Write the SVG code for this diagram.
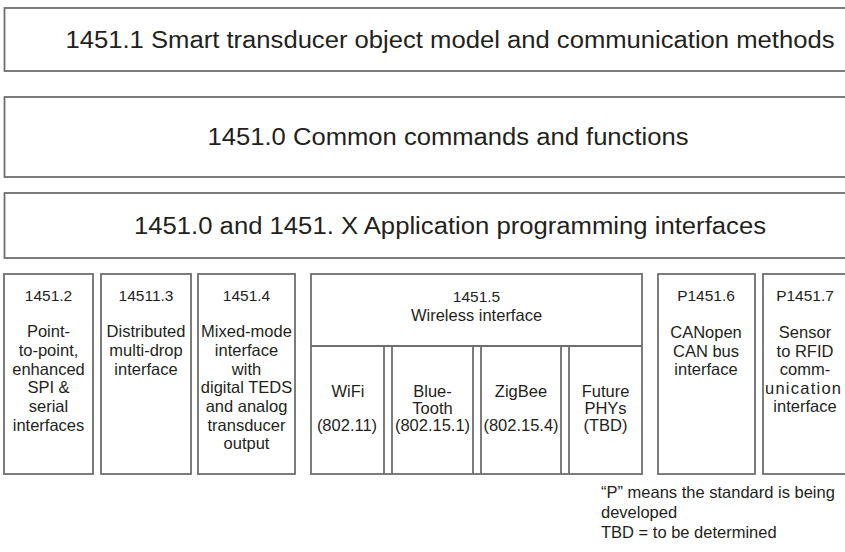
<svg xmlns="http://www.w3.org/2000/svg" width="845" height="552" viewBox="0 0 845 552">
  <style>
    .box { fill: #ffffff; stroke: #6e6e6e; stroke-width: 1.8; }
    .div { fill: none; stroke: #6e6e6e; stroke-width: 1.8; }
    text { font-family: "Liberation Sans", Arial, sans-serif; fill: #231f20; text-anchor: middle; }
    .title { font-size: 23px; }
    .hd { font-size: 15.5px; }
    .bd { font-size: 16.5px; }
    .note { font-size: 16.5px; text-anchor: start; }
  </style>
  <rect width="845" height="552" fill="#ffffff"/>

  <!-- stacked layers -->
  <g id="layer-1451-1">
    <rect class="box" x="4.5" y="8" width="850" height="63"/>
    <text class="title" x="450" y="48" textLength="769" lengthAdjust="spacingAndGlyphs">1451.1 Smart transducer object model and communication methods</text>
  </g>
  <g id="layer-1451-0">
    <rect class="box" x="4.5" y="97" width="850" height="80"/>
    <text class="title" x="448" y="145" textLength="481" lengthAdjust="spacingAndGlyphs">1451.0 Common commands and functions</text>
  </g>
  <g id="layer-api">
    <rect class="box" x="4.5" y="193" width="850" height="65"/>
    <text class="title" x="450" y="234" textLength="632" lengthAdjust="spacingAndGlyphs">1451.0 and 1451. X Application programming interfaces</text>
  </g>

  <!-- physical interface standards -->
  <g id="std-1451-2">
    <rect class="box" x="4" y="274" width="89" height="200"/>
    <text class="hd" x="48.5" y="301">1451.2</text>
    <text class="bd" x="48.5" y="337">Point-</text>
    <text class="bd" x="48.5" y="356">to-point,</text>
    <text class="bd" x="48.5" y="375">enhanced</text>
    <text class="bd" x="48.5" y="393">SPI &amp;</text>
    <text class="bd" x="48.5" y="412">serial</text>
    <text class="bd" x="48.5" y="431">interfaces</text>
  </g>
  <g id="std-14511-3">
    <rect class="box" x="101" y="274" width="90" height="200"/>
    <text class="hd" x="146" y="301">14511.3</text>
    <text class="bd" x="146" y="337">Distributed</text>
    <text class="bd" x="146" y="356">multi-drop</text>
    <text class="bd" x="146" y="375">interface</text>
  </g>
  <g id="std-1451-4">
    <rect class="box" x="198" y="274" width="97" height="200"/>
    <text class="hd" x="246.5" y="301">1451.4</text>
    <text class="bd" x="246.5" y="337">Mixed-mode</text>
    <text class="bd" x="246.5" y="356">interface</text>
    <text class="bd" x="246.5" y="375">with</text>
    <text class="bd" x="246.5" y="393">digital TEDS</text>
    <text class="bd" x="246.5" y="412">and analog</text>
    <text class="bd" x="246.5" y="431">transducer</text>
    <text class="bd" x="246.5" y="449">output</text>
  </g>
  <g id="std-1451-5">
    <rect class="box" x="311" y="274" width="331" height="200"/>
    <path class="div" d="M311 346H642 M384 346V474 M392 346V474 M473 346V474 M481 346V474 M561 346V474 M569 346V474"/>
    <text class="hd" x="476.5" y="302">1451.5</text>
    <text class="bd" x="476.5" y="321">Wireless interface</text>
  </g>
  <g id="phy-wifi">
    <text class="bd" x="348" y="397">WiFi</text>
    <text class="bd" x="347" y="431">(802.11)</text>
  </g>
  <g id="phy-bluetooth">
    <text class="bd" x="432.5" y="397">Blue-</text>
    <text class="bd" x="432.5" y="414">Tooth</text>
    <text class="bd" x="432.5" y="431">(802.15.1)</text>
  </g>
  <g id="phy-zigbee">
    <text class="bd" x="521" y="397">ZigBee</text>
    <text class="bd" x="521" y="431">(802.15.4)</text>
  </g>
  <g id="phy-future">
    <text class="bd" x="605.5" y="397">Future</text>
    <text class="bd" x="605.5" y="414">PHYs</text>
    <text class="bd" x="605.5" y="431">(TBD)</text>
  </g>
  <g id="std-p1451-6">
    <rect class="box" x="658" y="274" width="97" height="200"/>
    <text class="hd" x="706" y="301">P1451.6</text>
    <text class="bd" x="706" y="338">CANopen</text>
    <text class="bd" x="706" y="357">CAN bus</text>
    <text class="bd" x="706" y="375">interface</text>
  </g>
  <g id="std-p1451-7">
    <rect class="box" x="763" y="274" width="90" height="200"/>
    <text class="hd" x="805" y="301">P1451.7</text>
    <text class="bd" x="805" y="338">Sensor</text>
    <text class="bd" x="805" y="357">to RFID</text>
    <text class="bd" x="805" y="375">comm-</text>
    <text class="bd" x="803" y="394" textLength="76">unication</text>
    <text class="bd" x="805" y="412">interface</text>
  </g>

  <!-- no connectors in this layer chart -->
  <g id="connectors"/>

  <g id="legend">
    <text class="note" x="601" y="498">“P” means the standard is being</text>
    <text class="note" x="601" y="518">developed</text>
    <text class="note" x="601" y="538">TBD = to be determined</text>
  </g>
</svg>
